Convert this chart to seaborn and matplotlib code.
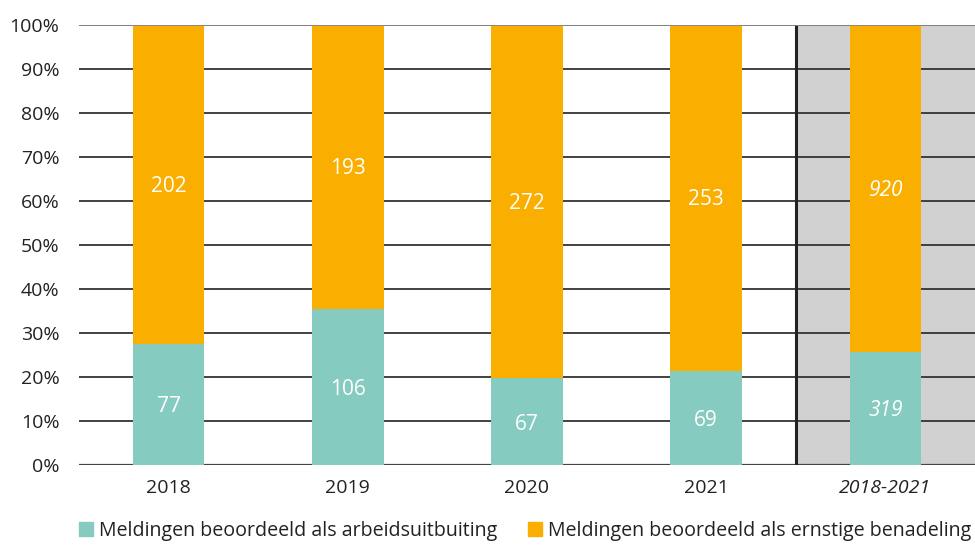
import numpy as np
import pandas as pd
import seaborn as sns
import matplotlib.pyplot as plt
from matplotlib.patches import Patch

# data
periods = ["2018", "2019", "2020", "2021", "2018-2021"]
uitbuiting = [77, 106, 67, 69, 319]
benadeling = [202, 193, 272, 253, 920]
series_names = ["Meldingen beoordeeld als arbeidsuitbuiting",
                "Meldingen beoordeeld als ernstige benadeling"]

teal = "#85CBBF"
orange = "#F9AE00"
grey_bg = "#D0D1D0"
text_col = "#222222"

sns.set_theme(style="white")
plt.rcParams['font.family'] = ['Open Sans', 'DejaVu Sans']

df = pd.DataFrame({"periode": periods,
                   "uitbuiting": uitbuiting,
                   "benadeling": benadeling})
df["totaal"] = df["uitbuiting"] + df["benadeling"]
df["pct_uit"] = df["uitbuiting"] / df["totaal"] * 100
df["pct_tot"] = 100.0

fig, ax = plt.subplots(figsize=(9.75, 5.45), dpi=100)
fig.subplots_adjust(left=0.081, right=1.0, top=0.954, bottom=0.147)

# grey background behind totals column
ax.axvspan(3.5, 4.5, color=grey_bg, zorder=0, lw=0)

# gridlines
for y in range(10, 101, 10):
    ax.axhline(y, color="#333333", lw=1.3, zorder=1)
ax.axhline(0, color="#444444", lw=1.6, zorder=1)
ax.axvline(3.5, color="#222222", lw=2.2, zorder=4)

# stacked bars: full (orange) then lower part (teal)
sns.barplot(data=df, x="periode", y="pct_tot", color=orange, width=0.4,
            saturation=1, linewidth=0, ax=ax, zorder=2)
sns.barplot(data=df, x="periode", y="pct_uit", color=teal, width=0.4,
            saturation=1, linewidth=0, ax=ax, zorder=3)
ax.axhline(100, color="#888888", lw=1.3, zorder=4)

# value labels
for i, row in df.iterrows():
    style = "italic" if i == 4 else "normal"
    ax.text(i, row["pct_uit"] / 2 - 0.6, str(row["uitbuiting"]), ha="center",
            va="center", color="white", fontsize=15, fontstyle=style, zorder=5)
    ax.text(i, row["pct_uit"] + (100 - row["pct_uit"]) / 2 - 0.4,
            str(row["benadeling"]), ha="center", va="center", color="white",
            fontsize=15, fontstyle=style, zorder=5)

ax.set_xlim(-0.5, 4.5)
ax.set_ylim(0, 100)
ax.set_yticks(range(0, 101, 10))
ax.set_yticklabels([f"{v}%" for v in range(0, 101, 10)])
ax.set_xlabel("")
ax.set_ylabel("")
ax.tick_params(axis="both", length=0, labelsize=14, colors=text_col)
ax.tick_params(axis="y", pad=14)
ax.tick_params(axis="x", pad=10)
ax.get_xticklabels()[-1].set_fontstyle("italic")
for s in ax.spines.values():
    s.set_visible(False)

handles = [Patch(color=teal), Patch(color=orange)]
fig.legend(handles, series_names, loc="lower center", ncol=2, frameon=False,
           fontsize=14.1, bbox_to_anchor=(0.5385, -0.025), handlelength=0.7,
           handleheight=0.7, handletextpad=0.3, columnspacing=1.6,
           labelcolor=text_col)

fig.savefig("out.png", dpi=100)
